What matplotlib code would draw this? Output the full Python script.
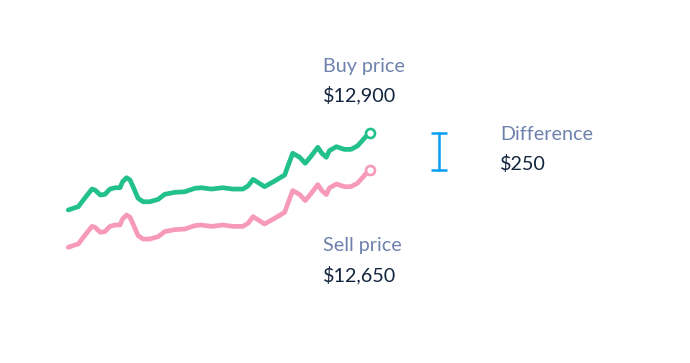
import matplotlib.pyplot as plt

# day of the period and prices
days = [0, 1.3, 2.0, 3.0, 4.7, 5.3, 6.4, 7.3, 8.3, 9.3, 10.3, 10.8, 11.6, 12.3,
        12.9, 13.9, 14.9, 16.2, 17.9, 19.2, 21.2, 23.2, 25.2, 26.5, 28.5, 30.8,
        32.8, 34.8, 35.8, 36.8, 39.1, 41.1, 43.1, 43.7, 44.7, 46.1, 47.2, 48.4,
        49.7, 50.5, 51.4, 52.0, 53.4, 55.0, 56.3, 57.6, 60]
buy = [12381, 12396, 12403, 12448, 12521, 12515, 12481, 12486, 12521, 12530,
       12530, 12570, 12597, 12582, 12537, 12459, 12436, 12436, 12452, 12486,
       12499, 12503, 12526, 12530, 12521, 12530, 12521, 12521, 12542, 12586,
       12537, 12575, 12615, 12671, 12761, 12734, 12694, 12743, 12801, 12761,
       12734, 12778, 12805, 12787, 12787, 12810, 12900]
sell = [12131, 12146, 12153, 12198, 12271, 12265, 12231, 12236, 12271, 12280,
        12280, 12320, 12347, 12332, 12287, 12209, 12186, 12186, 12202, 12236,
        12249, 12253, 12276, 12280, 12271, 12280, 12271, 12271, 12292, 12336,
        12287, 12325, 12365, 12421, 12511, 12484, 12444, 12493, 12551, 12511,
        12484, 12528, 12555, 12537, 12537, 12560, 12650]

buy_label = "Buy price"
sell_label = "Sell price"
diff_label = "Difference"
buy_value = "$12,900"
sell_value = "$12,650"
diff_value = "$250"

GREEN = "#22c08a"
PINK = "#f79ab9"
BLUE = "#0a9ff2"
LABEL = "#6e82ad"
VALUE = "#14253f"

W, H = 690, 363
fig = plt.figure(figsize=(W / 100, H / 100), dpi=100)
fig.patch.set_facecolor("white")

ax = fig.add_axes([68.3 / W, 1 - 266.8 / H, 301.2 / W, (266.8 - 117.6) / H])
ax.set_xlim(0, 60)
ax.set_ylim(12000, 13000)
ax.axis("off")

for vals, col in [(buy, GREEN), (sell, PINK)]:
    ax.plot(days, vals, color=col, lw=3.4, solid_joinstyle="round",
            solid_capstyle="round", clip_on=False, zorder=2)
    ax.plot(days[-1], vals[-1], "o", ms=6.5, mfc="white", mec=col, mew=1.9,
            clip_on=False, zorder=3)

# difference bracket between the two end values
bx = 73.8
ax.plot([bx, bx], [buy[-1], sell[-1]], color=BLUE, lw=1.8, clip_on=False)
for v in (buy[-1], sell[-1]):
    ax.plot([bx - 1.55, bx + 1.55], [v, v], color=BLUE, lw=1.8,
            solid_capstyle="butt", clip_on=False)

font = "Lato"
def txt(x, y, s, col):
    fig.text(x / W, 1 - y / H, s, color=col, fontsize=14.2, family=font,
             ha="left", va="baseline")

txt(323, 72, buy_label, LABEL)
txt(323, 101, buy_value, VALUE)
txt(500, 140, diff_label, LABEL)
txt(500, 170, diff_value, VALUE)
txt(323, 251, sell_label, LABEL)
txt(323, 281, sell_value, VALUE)

fig.savefig("out.png", dpi=100, facecolor="white")
